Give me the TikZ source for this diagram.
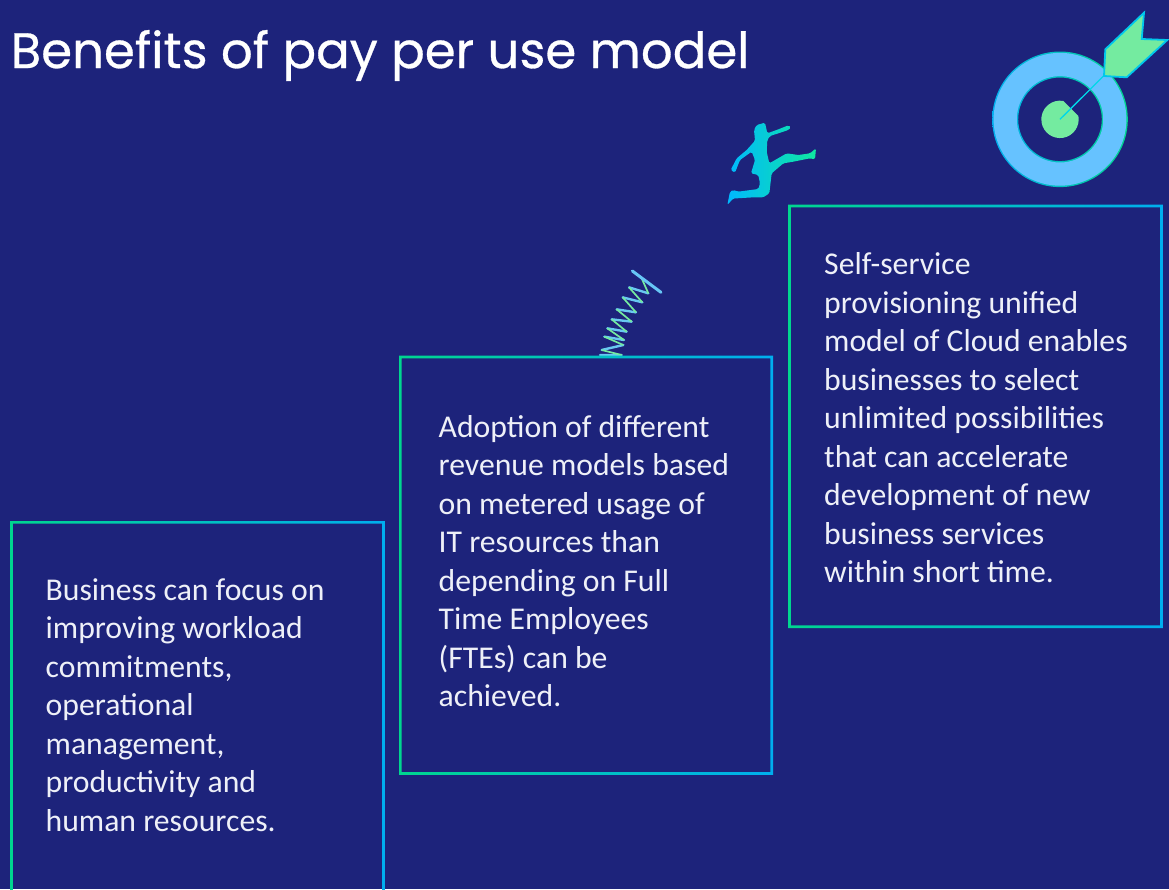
\documentclass[tikz,border=0pt]{standalone}
\usepackage{fontspec}
\setmainfont{Carlito}
\newfontfamily\titlefont[FakeBold=0.6]{Poppins}
\definecolor{bgnavy}{HTML}{1D237B}
\definecolor{edgegreen}{HTML}{00D68F}
\definecolor{edgeblue}{HTML}{00AEEF}
\definecolor{mint}{HTML}{74EBA0}
\definecolor{skyring}{HTML}{66C2FF}
\definecolor{cyanline}{HTML}{00D8E8}
\definecolor{softwhite}{HTML}{EEF0F8}
\definecolor{jumpblue}{HTML}{00B8FF}
\definecolor{jumpcyan}{HTML}{00DCFF}
\definecolor{jumpgreen}{HTML}{10E8A0}
\tikzset{x=1pt,y=-1pt,
 bodytext/.style={anchor=north west,align=left,text=softwhite,inner sep=0pt,font=\fontsize{31.7}{38.5}\selectfont},
 zoomed/.style={x=0.33333pt,y=-0.33333pt},
}
\newcommand{\gradbox}[4]{\shade[even odd rule,left color=edgegreen,right color=edgeblue]
  ({#1-1.3},{#2-1.3}) rectangle ({#3+1.3},{#4+1.3}) ({#1+1.3},{#2+1.3}) rectangle ({#3-1.3},{#4-1.3});}
\begin{document}
\begin{tikzpicture}
\useasboundingbox (0,0) rectangle (1169,889);
\fill[bgnavy] (0,0) rectangle (1169,889);
\node[anchor=west,inner sep=0pt,text=white,font=\titlefont\fontsize{49.8}{52}\selectfont] (title) at (10.5,55.5) {Benefits of pay per use model};
% spring
\begin{scope}[shift={(580,260)},zoomed]
\draw[skyring!85!mint,line width=2.4pt,line cap=round] (205,100) -- (147,82) (187,127) -- (128,112) (168,157) -- (110,148) (155,185) -- (95,178) (140,215) -- (82,205) (132,240) -- (73,230) (130,255) -- (65,270) (125,285) -- (60,285);
\draw[mint,line width=1.7pt] (185,55) -- (205,100) (147,82) -- (187,127) (128,112) -- (168,157) (110,148) -- (155,185) (95,178) -- (140,215) (82,205) -- (132,240) (73,230) -- (130,255) (65,270) -- (125,285);
\draw[skyring!90!mint,line width=3pt,line cap=round] (157,33) -- (243,97);
\end{scope}
\begin{scope}
\clip (0,0) rectangle (1169,889);
\gradbox{11.5}{522.3}{383.5}{900}
\end{scope}
\gradbox{400.3}{357}{771.7}{773.5}
\gradbox{789.5}{206}{1161.5}{626.7}
\node[bodytext] (t1) at (45.5,578) {Business can focus on\\improving workload\\commitments,\\operational\\management,\\productivity and\\human resources.};
\node[bodytext] (t2) at (438.5,415) {Adoption of different\\revenue models based\\on metered usage of\\IT resources than\\depending on Full\\Time Employees\\(FTEs) can be\\achieved.};
\node[bodytext] (t3) at (824,252.5) {Self-service\\provisioning unified\\model of Cloud enables\\businesses to select\\unlimited possibilities\\that can accelerate\\development of new\\business services\\within short time.};
% target
\shade[even odd rule,left color=edgeblue,right color=edgegreen] (1060,119.3) circle (67.8) (1060,119.3) circle (41.8);
\fill[skyring,even odd rule] (1060,119.3) circle (66.4) (1060,119.3) circle (43.2);
\fill[mint] (1078.4,116.1) arc (-10:280:18.7) -- cycle;
\draw[cyanline,line width=1.3pt] (1060,119.3) -- (1103.5,76);
\draw[edgeblue!40!cyanline,line width=1.8pt,fill=mint,line join=miter] (1104,76) -- (1105.3,49.3) -- (1144,12.7) -- (1141.7,39) -- (1167.3,40) -- (1126.7,77.3) -- cycle;
% jumper
\begin{scope}[shift={(710,110)},zoomed]
\shade[left color=jumpblue,middle color=jumpcyan,right color=jumpgreen,rounded corners=1.5pt]
 (62,180) -- (80,145) -- (110,120) -- (135,92) -- (132,60) -- (140,45) -- (165,38) -- (172,70) -- (205,58) -- (235,46) -- (243,52) -- (235,60) -- (205,70) -- (180,78) -- (172,90) -- (170,125) -- (178,160) -- (230,130) -- (265,135) -- (300,130) -- (318,115) -- (315,148) -- (300,145) -- (250,155) -- (220,160) -- (185,190) -- (178,250) -- (160,262) -- (130,262) -- (80,265) -- (70,265) -- (52,285) -- (60,245) -- (70,240) -- (85,245) -- (145,237) -- (150,220) -- (145,195) -- (123,190) -- (135,150) -- (125,125) -- (90,150) -- (75,188) -- cycle;
\end{scope}
\end{tikzpicture}
\end{document}
